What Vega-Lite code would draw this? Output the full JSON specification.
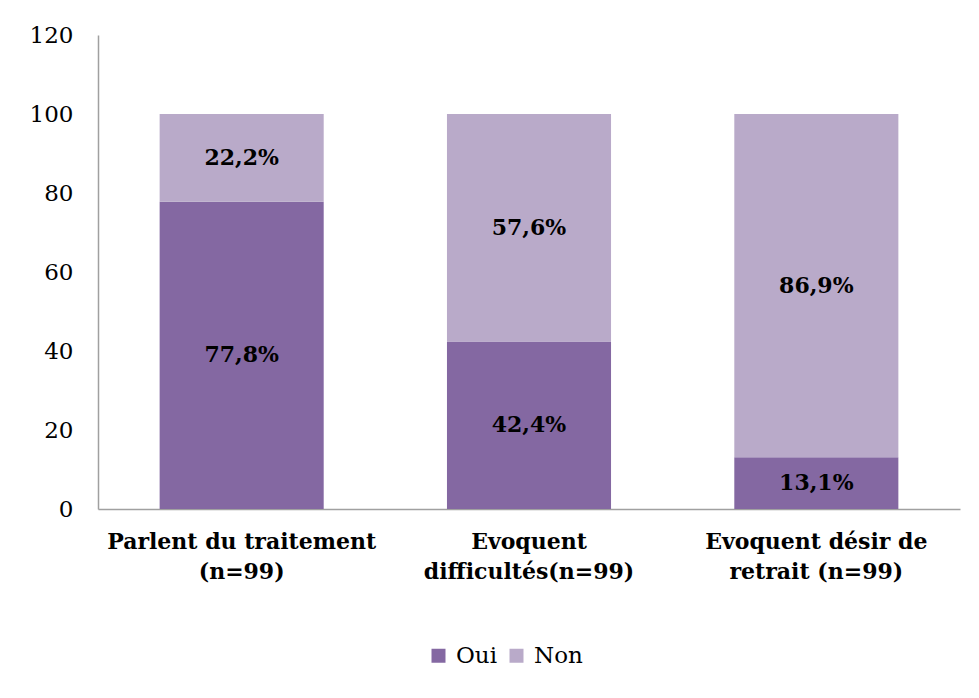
{
  "$schema": "https://vega.github.io/schema/vega-lite/v6.json",
  "autosize": "none",
  "width": 862,
  "height": 474,
  "padding": {"left": 98, "top": 35, "right": 19, "bottom": 189},
  "background": "white",
  "config": {
    "view": {"stroke": null},
    "font": "DejaVu Serif"
  },
  "data": {
    "values": [
      {"cat": "Parlent du traitement|(n=99)", "statut": "Oui", "pct": 77.8, "lab": "77,8%"},
      {"cat": "Parlent du traitement|(n=99)", "statut": "Non", "pct": 22.2, "lab": "22,2%"},
      {"cat": "Evoquent|difficultés(n=99)", "statut": "Oui", "pct": 42.4, "lab": "42,4%"},
      {"cat": "Evoquent|difficultés(n=99)", "statut": "Non", "pct": 57.6, "lab": "57,6%"},
      {"cat": "Evoquent désir de|retrait (n=99)", "statut": "Oui", "pct": 13.1, "lab": "13,1%"},
      {"cat": "Evoquent désir de|retrait (n=99)", "statut": "Non", "pct": 86.9, "lab": "86,9%"}
    ]
  },
  "encoding": {
    "x": {
      "field": "cat",
      "type": "nominal",
      "sort": null,
      "scale": {"paddingInner": 0.429, "paddingOuter": 0.2145},
      "axis": {
        "title": null,
        "labelAngle": 0,
        "ticks": false,
        "domainColor": "#a0a0a0",
        "domainWidth": 1.5,
        "labelFont": "DejaVu Serif",
        "labelFontWeight": "bold",
        "labelFontSize": 22,
        "labelColor": "black",
        "labelLimit": 400,
        "labelPadding": 22,
        "labelLineHeight": 30,
        "labelExpr": "split(datum.label, '|')"
      }
    }
  },
  "layer": [
    {
      "mark": {"type": "bar"},
      "encoding": {
        "y": {
          "field": "pct",
          "type": "quantitative",
          "stack": "zero",
          "scale": {"domain": [0, 120], "nice": false},
          "axis": {
            "title": null,
            "values": [0, 20, 40, 60, 80, 100, 120],
            "grid": false,
            "ticks": false,
            "domainColor": "#a0a0a0",
            "domainWidth": 1.5,
            "labelFont": "DejaVu Serif",
            "labelFontSize": 23,
            "labelColor": "black",
            "labelPadding": 25
          }
        },
        "color": {
          "field": "statut",
          "type": "nominal",
          "scale": {"domain": ["Oui", "Non"], "range": ["#8468A2", "#B9AAC9"]},
          "legend": {
            "title": null,
            "orient": "none",
            "direction": "horizontal",
            "legendX": 329,
            "legendY": 609,
            "padding": 0,
            "symbolType": "square",
            "symbolSize": 196,
            "symbolStrokeWidth": 0,
            "symbolOpacity": 1,
            "labelFont": "DejaVu Serif",
            "labelFontSize": 23,
            "labelColor": "black",
            "labelOffset": 6,
            "columnPadding": 7
          }
        },
        "order": {"field": "statut", "sort": "descending"}
      }
    },
    {
      "transform": [
        {"stack": "pct", "groupby": ["cat"], "sort": [{"field": "statut", "order": "descending"}], "as": ["y0", "y1"]},
        {"fold": ["y0", "y1"], "as": ["k", "v"]},
        {"aggregate": [{"op": "mean", "field": "v", "as": "mid"}], "groupby": ["cat", "statut", "lab"]}
      ],
      "mark": {"type": "text", "font": "DejaVu Serif", "fontWeight": "bold", "fontSize": 22, "color": "black", "baseline": "middle", "align": "center"},
      "encoding": {
        "y": {"field": "mid", "type": "quantitative"},
        "text": {"field": "lab", "type": "nominal"}
      }
    }
  ]
}
